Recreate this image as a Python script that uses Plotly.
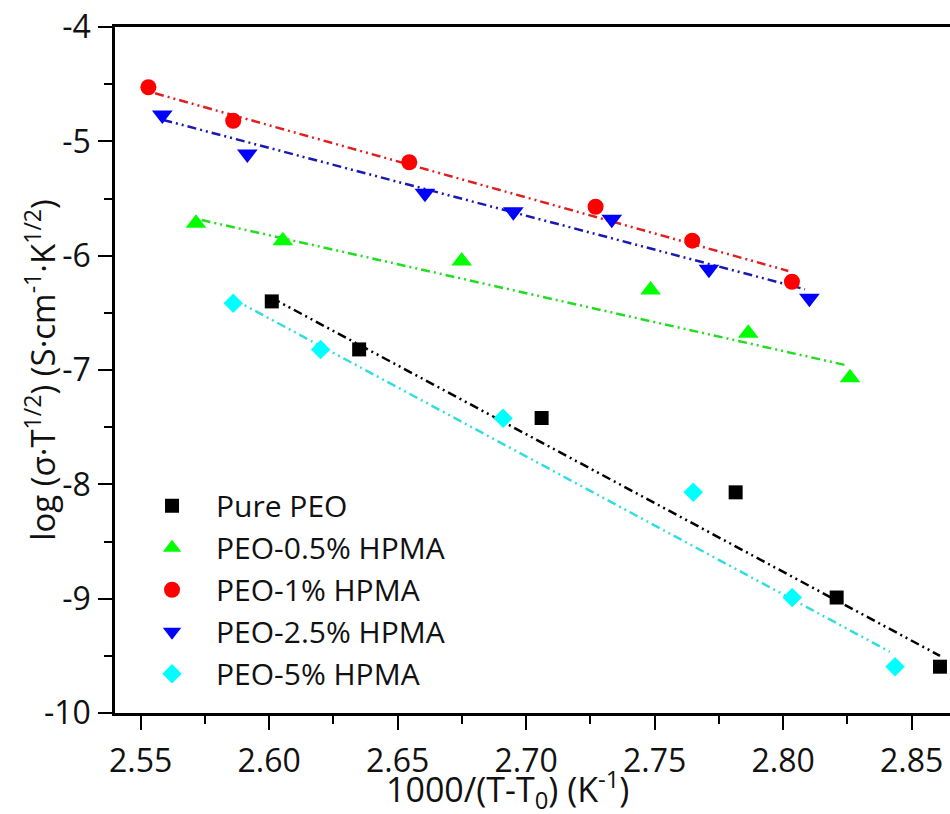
import plotly.graph_objects as go

# ---- data ----
names = ["Pure PEO", "PEO-0.5% HPMA", "PEO-1% HPMA", "PEO-2.5% HPMA", "PEO-5% HPMA"]

x_pure = [2.601, 2.635, 2.706, 2.7815, 2.8208, 2.861]
y_pure = [-6.40, -6.82, -7.42, -8.07, -8.99, -9.595]

x_05 = [2.5715, 2.6053, 2.6749, 2.7484, 2.7864, 2.826]
y_05 = [-5.717, -5.87, -6.047, -6.30, -6.679, -7.067]

x_1 = [2.553, 2.586, 2.6545, 2.727, 2.7646, 2.8034]
y_1 = [-4.527, -4.82, -5.183, -5.572, -5.869, -6.228]

x_25 = [2.5584, 2.5915, 2.6606, 2.6950, 2.7333, 2.7711, 2.8102]
y_25 = [-4.77, -5.11, -5.455, -5.615, -5.682, -6.119, -6.373]

x_5 = [2.586, 2.620, 2.691, 2.765, 2.8035, 2.8435]
y_5 = [-6.417, -6.82, -7.423, -8.07, -8.99, -9.595]

# fitted lines (end points)
fit_pure_x = [2.601, 2.861]
fit_pure_y = [-6.37, -9.50]
fit_05_x = [2.5737, 2.824]
fit_05_y = [-5.688, -6.956]
fit_1_x = [2.5556, 2.802]
fit_1_y = [-4.58, -6.134]
fit_25_x = [2.5588, 2.8085]
fit_25_y = [-4.813, -6.294]
fit_5_x = [2.586, 2.8415]
fit_5_y = [-6.38, -9.464]

x_ticks = [2.55, 2.60, 2.65, 2.70, 2.75, 2.80, 2.85]
y_ticks = [-4, -5, -6, -7, -8, -9, -10]

series = [
    (x_pure, y_pure, fit_pure_x, fit_pure_y, "#000000", "#000000", "square", 14),
    (x_05, y_05, fit_05_x, fit_05_y, "#00FF00", "#22DD22", "triangle-up", 18),
    (x_1, y_1, fit_1_x, fit_1_y, "#FF0000", "#E02020", "circle", 16),
    (x_25, y_25, fit_25_x, fit_25_y, "#0000FF", "#1A1AB0", "triangle-down", 18),
    (x_5, y_5, fit_5_x, fit_5_y, "#00FFFF", "#33DDDD", "diamond", 15),
]

FONT = "Open Sans"
dash = "9px,4px,2px,4px,2px,4px"

fig = go.Figure()

for s, nm in zip(series, names):
    xs, ys, fx, fy, mc, lc, sym, sz = s
    fig.add_trace(go.Scatter(x=fx, y=fy, mode="lines",
                             line=dict(color=lc, width=2.5, dash=dash),
                             showlegend=False, hoverinfo="skip"))

for i, (s, nm) in enumerate(zip(series, names)):
    xs, ys, fx, fy, mc, lc, sym, sz = s
    fig.add_trace(go.Scatter(x=xs, y=ys, mode="markers", name=nm,
                             legendgroup=f"g{i}",
                             marker=dict(symbol=sym, size=sz, color=mc, line=dict(width=0))))

fig.update_layout(
    width=950, height=814,
    margin=dict(l=115, r=0, t=27, b=101),
    paper_bgcolor="white", plot_bgcolor="white",
    font=dict(family=FONT, size=32, color="#111111"),
    legend=dict(x=0.0156, y=0.34, xanchor="left", yanchor="top",
                bgcolor="rgba(0,0,0,0)", font=dict(size=30),
                itemwidth=78, tracegroupgap=0),
    xaxis=dict(range=[2.54, 2.54 + 835 / 2570], tickvals=x_ticks,
               ticktext=[f"{v:.2f}" for v in x_ticks],
               showgrid=False, zeroline=False, showline=True, linecolor="black",
               linewidth=2.5, mirror=True, ticks="outside", ticklen=14, tickwidth=2,
               tickcolor="black", ticklabelstandoff=4,
               minor=dict(dtick=0.025, ticks="outside", ticklen=8, tickwidth=2, tickcolor="black")),
    yaxis=dict(range=[-10, -4], tickvals=y_ticks, ticktext=[str(v) for v in y_ticks],
               showgrid=False, zeroline=False, showline=True, linecolor="black",
               linewidth=2.5, ticks="outside", ticklen=14, tickwidth=2,
               tickcolor="black", ticklabelstandoff=1,
               minor=dict(dtick=0.5, ticks="outside", ticklen=8, tickwidth=2, tickcolor="black")),
    annotations=[
        dict(text="1000/(T-T<sub>0</sub>) (K<sup>-1</sup>)", xref="paper", yref="paper",
             x=0.47, y=-0.112, xanchor="center", yanchor="middle", showarrow=False,
             font=dict(size=34)),
        dict(text="log (σ·T<sup>1/2</sup>) (S·cm<sup>-1</sup>·K<sup>1/2</sup>)", xref="paper", yref="paper",
             x=-0.09, y=0.5, xanchor="center", yanchor="middle", textangle=-90, showarrow=False,
             font=dict(size=33)),
    ],
)

fig.write_html("out.html")
